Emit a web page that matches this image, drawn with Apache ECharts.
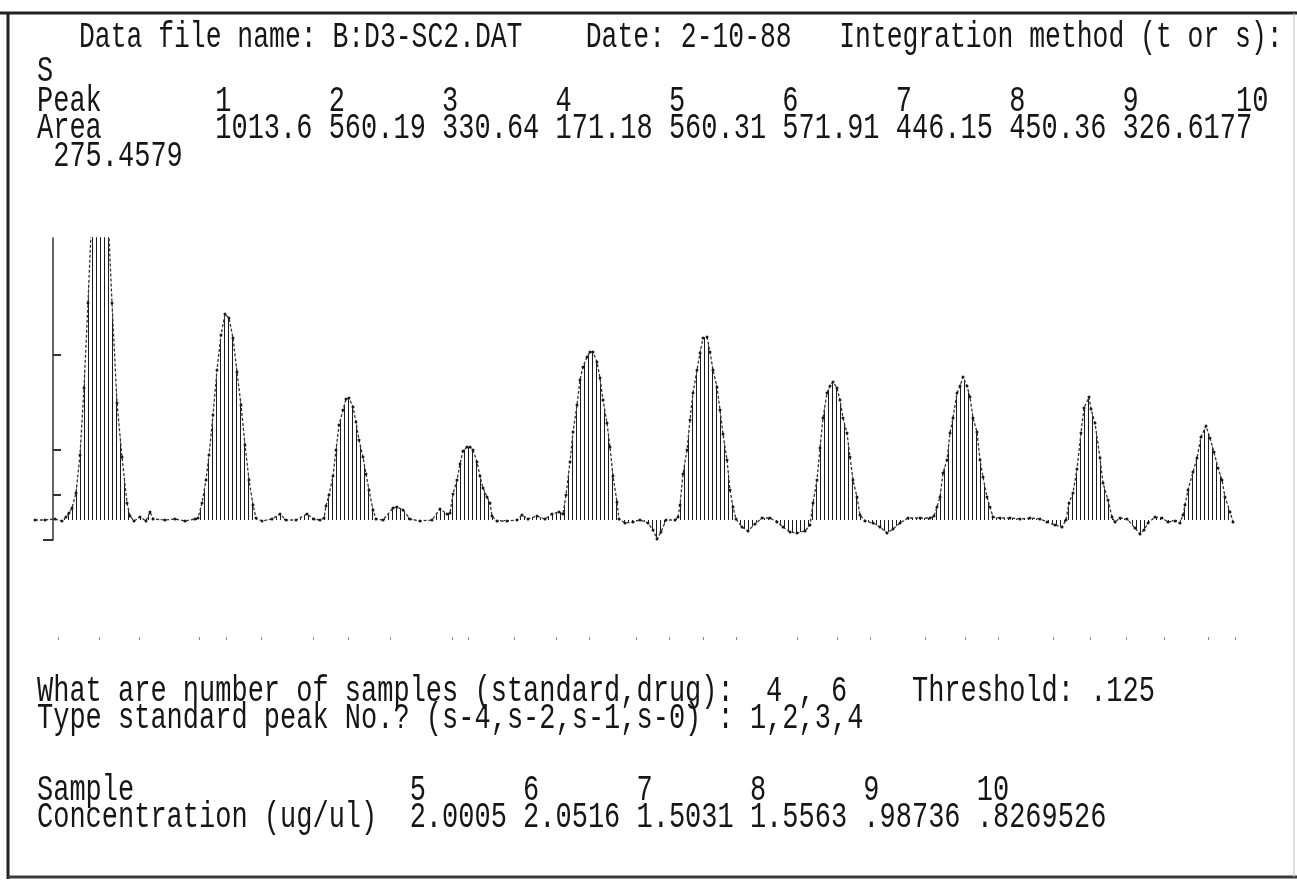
<!DOCTYPE html>
<html><head><meta charset="utf-8">
<script src="https://cdn.jsdelivr.net/npm/echarts@6/dist/echarts.min.js"></script>
<style>html,body{margin:0;padding:0;background:#fff}#c{width:1297px;height:890px}</style>
</head><body><div id="c"></div>
<script>
// ---- header / report data ----
const dataFileName = 'B:D3-SC2.DAT';
const reportDate = '2-10-88';
const integrationMethod = 'S';
const peakNumbers = [1, 2, 3, 4, 5, 6, 7, 8, 9, 10];
const peakAreas = ['1013.6', '560.19', '330.64', '171.18', '560.31', '571.91', '446.15', '450.36', '326.6177', '275.4579'];
const sampleCounts = [4, 6];          // standard, drug
const threshold = '.125';
const standardPeaks = [1, 2, 3, 4];
const sampleNumbers = [5, 6, 7, 8, 9, 10];
const concentrations = ['2.0005', '2.0516', '1.5031', '1.5563', '.98736', '.8269526'];

// ---- axis ticks (time units / detector units) ----
const yTickValues = [25, 70, 165];
const yBottomTick = [-20];
const timeTickValues = [5, 46, 86, 146, 173, 208, 260, 295, 337, 399, 415, 461, 503, 536, 583, 616, 650, 683, 744, 784, 817, 872, 912, 945, 1000, 1037, 1073, 1111, 1155, 1182];

// ---- detector trace [time, signal] ----
const baseline0 = [[-18,0],[-8,0],[2,1],[9,-1],[13,3]];
const peak1 = [[16,7],[19,12],[23,27],[27,65],[31,132],[35,217],[38,288],[42,315],[46,328],[50,322],[53,305],[56,284],[59,217],[64,117],[69,63],[74,17],[77,4],[81,-1]];
const baseline1 = [[87,3],[93,-1],[97,8],[100,1],[112,0],[122,1],[132,-1],[142,1]];
const peak2 = [[145,2],[149,17],[153,40],[156,65],[160,105],[164,150],[168,185],[172,206],[176,202],[180,182],[184,148],[188,115],[192,75],[196,40],[200,15],[203,2]];
const baseline2 = [[209,-1],[219,1],[227,6],[233,0],[243,0],[254,6],[261,1],[267,0]];
const peak3 = [[271,2],[273,14],[276,25],[280,44],[283,70],[286,95],[290,110],[293,121],[296,122],[300,113],[303,98],[306,80],[310,63],[313,46],[316,30],[320,10],[323,1]];
const baseline3 = [[330,0],[340,12],[344,13],[350,10],[357,1],[367,-1],[379,0],[387,11],[394,6]];
const peak4 = [[397,7],[400,26],[404,40],[407,56],[410,69],[414,73],[417,73],[420,70],[424,58],[427,44],[430,32],[434,23],[437,17],[439,4],[444,-1]];
const baseline4 = [[454,-1],[464,0],[469,5],[475,1],[484,4],[492,1],[499,6],[506,8],[510,6]];
const peak5 = [[513,25],[517,58],[520,88],[524,115],[527,140],[530,153],[534,163],[537,168],[540,168],[544,158],[547,142],[550,120],[554,97],[557,73],[560,44],[564,18],[566,1]];
const baseline5 = [[572,-3],[580,-2],[587,0],[595,-3],[600,-10],[604,-19],[608,-12],[613,0],[622,0]];
const peak6 = [[625,3],[627,15],[630,46],[634,70],[637,100],[640,127],[644,150],[647,167],[650,182],[654,183],[657,168],[660,150],[664,133],[667,110],[670,86],[674,60],[677,30],[680,13],[683,1]];
const baseline6 = [[689,-7],[695,-11],[702,-4],[709,2],[717,2],[724,-2],[730,-7],[737,-12],[744,-13],[752,-11],[757,-5]];
const peak7 = [[760,17],[764,40],[767,72],[770,102],[774,127],[777,134],[780,138],[784,132],[787,120],[790,102],[794,87],[797,63],[800,40],[804,23],[807,5]];
const baseline7 = [[812,-1],[820,-3],[827,-7],[834,-13],[840,-9],[847,-3],[855,2],[867,2],[877,2]];
const peak8 = [[881,4],[884,13],[887,23],[890,47],[894,60],[897,87],[900,102],[904,127],[907,134],[910,143],[914,134],[917,123],[920,102],[924,88],[927,60],[930,43],[934,23],[937,13],[940,3]];
const baseline8 = [[947,2],[957,2],[967,1],[977,2],[987,1],[994,-2],[1002,-5],[1009,-7]];
const peak9 = [[1013,0],[1016,17],[1020,27],[1024,51],[1028,87],[1031,112],[1036,123],[1038,111],[1042,97],[1047,62],[1050,37],[1055,20],[1059,3],[1062,-2]];
const baseline9 = [[1067,2],[1074,1],[1082,-8],[1087,-14],[1091,-10],[1095,-3],[1102,3],[1109,2],[1115,-2],[1122,-1],[1127,-3]];
const peak10 = [[1130,5],[1132,15],[1135,30],[1140,48],[1144,62],[1148,83],[1153,94],[1157,82],[1161,68],[1165,52],[1169,40],[1172,23],[1177,8],[1180,-2]];

const trace = [].concat(baseline0, peak1, baseline1, peak2, baseline2, peak3, baseline3, peak4, baseline4,
  peak5, baseline5, peak6, baseline6, peak7, baseline7, peak8, baseline8, peak9, baseline9, peak10);

// ---- text rows (monospaced report) ----
const FONT = '27px "Liberation Mono", "DejaVu Sans Mono", monospace';
const FONT_HEAD = '26.4px "Liberation Mono", "DejaVu Sans Mono", monospace';
const INK = '#161616';
const rows = [
  { x: 79, y: 37, f: FONT_HEAD, t: 'Data file name: ' + dataFileName + '    Date: ' + reportDate + '   Integration method (t or s):' },
  { x: 37, y: 71, t: integrationMethod },
  { x: 37, y: 101, t: 'Peak'.padEnd(11) + peakNumbers.map(n => String(n).padEnd(7)).join('').trimEnd() },
  { x: 37, y: 128, t: 'Area'.padEnd(11) + peakAreas.slice(0, 9).map(a => a.padEnd(7)).join('').trimEnd() },
  { x: 37, y: 156, t: ' ' + peakAreas[9] },
  { x: 37, y: 691, t: 'What are number of samples (standard,drug):  ' + sampleCounts[0] + ' , ' + sampleCounts[1] + '    Threshold: ' + threshold },
  { x: 37, y: 718, t: 'Type standard peak No.? (s-4,s-2,s-1,s-0) : ' + standardPeaks.join(',') },
  { x: 37, y: 790, t: 'Sample'.padEnd(23) + sampleNumbers.map(n => String(n).padEnd(7)).join('').trimEnd() },
  { x: 37, y: 817, t: 'Concentration (ug/ul)'.padEnd(23) + concentrations.map(c => c.padEnd(7)).join('').trimEnd() }
];

const graphics = rows.map(r => ({
  type: 'text', x: r.x, y: r.y, scaleY: 1.4, z: 10,
  style: { text: r.t, font: r.f || FONT, fill: INK, verticalAlign: 'middle', align: 'left' }
}));
// paper frame
graphics.push(
  { type: 'line', z: 5, shape: { x1: 0, y1: 13, x2: 1297, y2: 13 }, style: { stroke: '#222', lineWidth: 3 } },
  { type: 'line', z: 5, shape: { x1: 8, y1: 12, x2: 8, y2: 879 }, style: { stroke: '#222', lineWidth: 3 } },
  { type: 'line', z: 5, shape: { x1: 8, y1: 877, x2: 1297, y2: 877 }, style: { stroke: '#3a3a3a', lineWidth: 3 } },
  { type: 'line', z: 5, shape: { x1: 1294, y1: 13, x2: 1294, y2: 877 }, style: { stroke: '#bbb', lineWidth: 1 } }
);

const chart = echarts.init(document.getElementById('c'), null, { renderer: 'canvas' });
chart.setOption({
  animation: false,
  backgroundColor: '#fff',
  grid: { left: 35, right: 57, top: 238, bottom: 350, containLabel: false },
  xAxis: [
    { type: 'value', min: -18, max: 1187, show: false },
    { type: 'value', min: -18, max: 1187, position: 'bottom', offset: 97,
      axisLine: { show: false, onZero: false }, splitLine: { show: false },
      axisLabel: { show: false },
      axisTick: { show: true, customValues: timeTickValues, length: 3, lineStyle: { color: '#888', width: 1 } } }
  ],
  yAxis: [
    { type: 'value', min: -20, max: 282, position: 'left',
      axisLine: { show: true, onZero: true, lineStyle: { color: '#333', width: 1.5 } },
      splitLine: { show: false }, axisLabel: { show: false },
      axisTick: { show: true, inside: true, length: 8, customValues: yTickValues, lineStyle: { color: '#333', width: 2 } } },
    { type: 'value', min: -20, max: 282, position: 'left',
      axisLine: { show: false, onZero: true },
      splitLine: { show: false }, axisLabel: { show: false },
      axisTick: { show: true, inside: false, length: 10, customValues: yBottomTick, lineStyle: { color: '#333', width: 2 } } }
  ],
  graphic: graphics,
  series: [{
    type: 'line',
    xAxisIndex: 0, yAxisIndex: 0,
    data: trace,
    clip: true,
    symbol: 'circle', symbolSize: 3, showSymbol: true,
    itemStyle: {
      color: '#1a1a1a',
      decal: { symbol: 'rect', symbolSize: 1, color: '#1c1c1c', backgroundColor: null,
               dashArrayX: [1, 3], dashArrayY: [10, 0], rotation: 0 }
    },
    lineStyle: { color: '#333', width: 1.3, type: [3, 2] },
    areaStyle: { color: 'rgba(255,255,255,0)', opacity: 1 }
  }]
});
</script>
</body></html>
